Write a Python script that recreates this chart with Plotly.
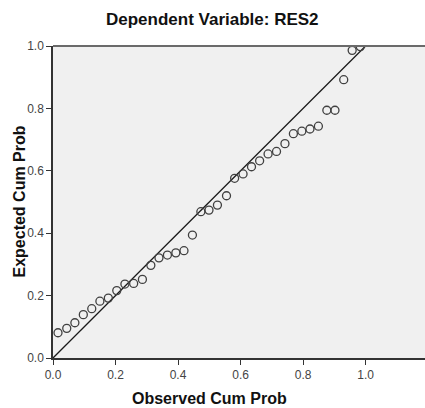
import plotly.graph_objects as go

# Observed cumulative probability (x) and expected cumulative probability (y)
observed_cum_prob = [0.016, 0.044, 0.070, 0.097, 0.124, 0.150, 0.177, 0.204, 0.230, 0.258,
                     0.286, 0.313, 0.339, 0.366, 0.393, 0.419, 0.446, 0.473, 0.499, 0.526,
                     0.555, 0.581, 0.608, 0.635, 0.661, 0.688, 0.715, 0.742, 0.769, 0.796,
                     0.822, 0.849, 0.876, 0.902, 0.930, 0.957, 0.983]
expected_cum_prob = [0.081, 0.095, 0.113, 0.139, 0.158, 0.182, 0.192, 0.216, 0.237, 0.239,
                     0.252, 0.297, 0.321, 0.330, 0.337, 0.344, 0.394, 0.469, 0.474, 0.490,
                     0.520, 0.576, 0.590, 0.613, 0.632, 0.654, 0.662, 0.687, 0.719, 0.727,
                     0.734, 0.743, 0.794, 0.794, 0.892, 0.986, 0.998]
reference_x = [0.0, 1.0]
reference_y = [0.0, 1.0]
tick_vals = [0.0, 0.2, 0.4, 0.6, 0.8, 1.0]
tick_text = ["0.0", "0.2", "0.4", "0.6", "0.8", "1.0"]

FONT = "Liberation Sans, Arial, sans-serif"

fig = go.Figure()
fig.add_trace(go.Scatter(
    x=reference_x, y=reference_y, mode="lines",
    line=dict(color="#1a1a1a", width=1.3), hoverinfo="skip", showlegend=False))
fig.add_trace(go.Scatter(
    x=observed_cum_prob, y=expected_cum_prob, mode="markers",
    marker=dict(symbol="circle-open", size=8, color="#404040", line=dict(width=1.3, color="#404040")),
    showlegend=False, cliponaxis=True))

fig.update_layout(
    width=425, height=408,
    margin=dict(l=53, r=0, t=46, b=50),
    paper_bgcolor="white", plot_bgcolor="#f0f0f0",
    font=dict(family=FONT, color="#333333", size=12),
    xaxis=dict(range=[0, 1.19], tickvals=tick_vals, ticktext=tick_text,
               showgrid=False, zeroline=False, showline=True, linecolor="#333333", linewidth=1.5,
               ticks="outside", ticklen=5, tickwidth=1, tickcolor="#333333",
               tickfont=dict(size=12, color="#444444")),
    yaxis=dict(range=[0, 1.0], tickvals=tick_vals, ticktext=tick_text,
               showgrid=False, zeroline=False, showline=True, linecolor="#333333", linewidth=1.5,
               ticks="outside", ticklen=5, tickwidth=1, tickcolor="#333333",
               tickfont=dict(size=12, color="#444444")),
    shapes=[dict(type="line", xref="paper", yref="paper", x0=0, x1=1, y0=1, y1=1,
                 line=dict(color="#6a6a6a", width=2))],
    annotations=[
        dict(text="<b>Dependent Variable: RES2</b>", xref="paper", yref="paper",
             x=0.430, y=1.0865, xanchor="center", yanchor="middle", showarrow=False,
             font=dict(size=17, color="#111111", family=FONT)),
        dict(text="<b>Observed Cum Prob</b>", xref="paper", yref="paper",
             x=0.421, y=-0.131, xanchor="center", yanchor="middle", showarrow=False,
             font=dict(size=16, color="#111111", family=FONT)),
        dict(text="<b>Expected Cum Prob</b>", xref="paper", yref="paper",
             x=-0.0927, y=0.5, xanchor="center", yanchor="middle", showarrow=False,
             textangle=-90, font=dict(size=16, color="#111111", family=FONT)),
    ],
)

fig.write_html("out.html")
